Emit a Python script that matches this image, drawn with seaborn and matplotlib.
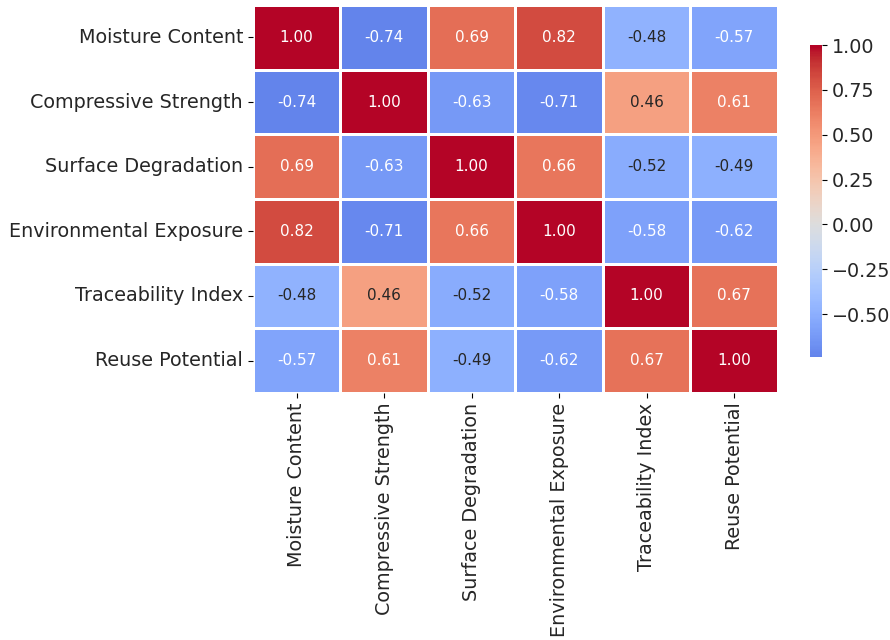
import numpy as np
import pandas as pd
import matplotlib
matplotlib.use('Agg')
import matplotlib.pyplot as plt
import seaborn as sns

# ── DATA ─────────────────────────────────────────────────────
labels = ['Moisture Content', 'Compressive Strength', 'Surface Degradation',
          'Environmental Exposure', 'Traceability Index', 'Reuse Potential']

moisture      = [1.00, -0.74, 0.69, 0.82, -0.48, -0.57]
compressive   = [-0.74, 1.00, -0.63, -0.71, 0.46, 0.61]
surface       = [0.69, -0.63, 1.00, 0.66, -0.52, -0.49]
environmental = [0.82, -0.71, 0.66, 1.00, -0.58, -0.62]
traceability  = [-0.48, 0.46, -0.52, -0.58, 1.00, 0.67]
reuse         = [-0.57, 0.61, -0.49, -0.62, 0.67, 1.00]

corr = pd.DataFrame([moisture, compressive, surface, environmental,
                     traceability, reuse], index=labels, columns=labels)

# ── PLOT ─────────────────────────────────────────────────────
plt.rcParams['font.size'] = 12
fig = plt.figure(figsize=(8.9, 6.4), dpi=100)
ax = fig.add_axes([0.284, 0.386, 0.590, 0.606])
cax = fig.add_axes([0.910, 0.442, 0.014, 0.4875])

sns.heatmap(corr, annot=True, fmt='.2f', cmap='coolwarm', center=0,
            linewidths=0.8, linecolor='white', ax=ax, cbar_ax=cax,
            annot_kws={'size': 11})
ax.tick_params(axis='both', labelsize=13.8, labelcolor='.15')
cax.tick_params(labelsize=13.8, labelcolor='.15')
plt.setp(ax.get_xticklabels(), rotation=90)
plt.setp(ax.get_yticklabels(), rotation=0)
cax.spines[:].set_visible(False)

fig.savefig('out.png', dpi=100)
